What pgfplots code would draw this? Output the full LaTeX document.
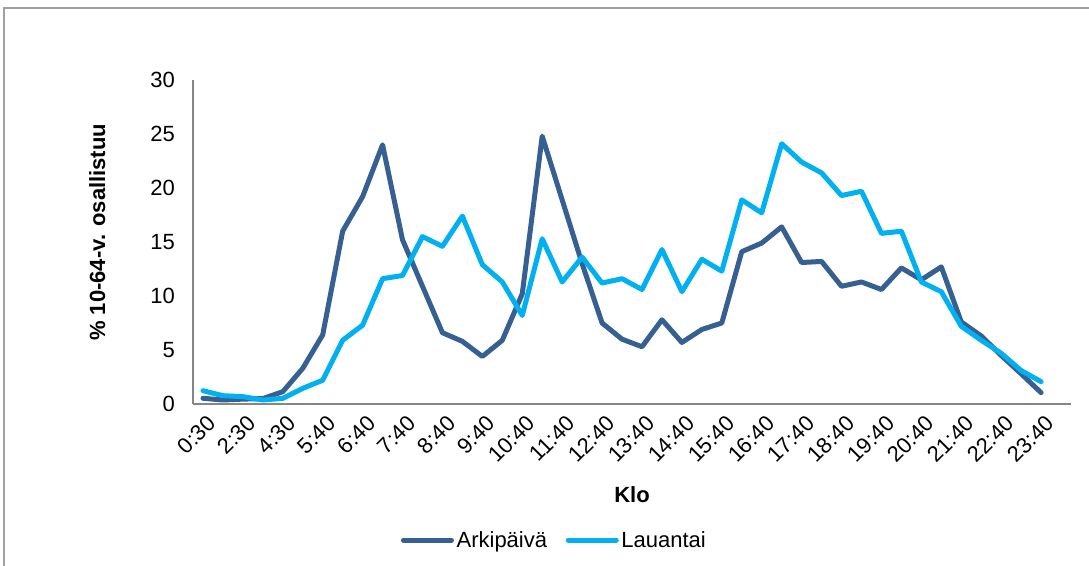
\documentclass[border=0pt]{standalone}
\usepackage{pgfplots}
\pgfplotsset{compat=1.18}
\usepackage{pgfplotstable}
\usepackage{fontspec}
\setmainfont{Liberation Sans}
\definecolor{arki}{RGB}{55,96,146}
\definecolor{lau}{RGB}{0,176,240}
\definecolor{axgray}{RGB}{134,134,134}
\definecolor{framegray}{RGB}{160,160,160}
\pgfplotstableread{
idx arki lau
0 0.53 1.23
1 0.37 0.77
2 0.45 0.68
3 0.50 0.37
4 1.14 0.52
5 3.3 1.45
6 6.4 2.2
7 16.0 5.9
8 19.2 7.3
9 24.0 11.6
10 15.2 11.9
11 10.9 15.5
12 6.6 14.6
13 5.8 17.4
14 4.4 12.9
15 5.9 11.3
16 10.2 8.2
17 24.8 15.3
18 18.9 11.3
19 13.0 13.6
20 7.5 11.2
21 6.0 11.6
22 5.3 10.6
23 7.8 14.3
24 5.7 10.4
25 6.9 13.4
26 7.5 12.3
27 14.1 18.9
28 14.9 17.7
29 16.4 24.1
30 13.1 22.4
31 13.2 21.4
32 10.9 19.3
33 11.3 19.7
34 10.6 15.8
35 12.6 16.0
36 11.5 11.3
37 12.7 10.4
38 7.6 7.2
39 6.3 5.9
40 4.5 4.7
41 2.8 3.1
42 1.05 2.07
}\datatable
\begin{document}
\begin{tikzpicture}
\useasboundingbox (0,0) rectangle (816.75pt,424.5pt);
\draw[framegray, line width=1.2pt] (3pt,0pt) -- (3pt,418.5pt) -- (816.75pt,418.5pt);
\begin{axis}[
  at={(144.75pt,121.5pt)}, anchor=south west,
  scale only axis, width=658.5pt, height=243pt,
  xmin=-0.5, xmax=43.5, ymin=0, ymax=30,
  ytick={0,5,...,30},
  xtick={0,2,...,42},
  xticklabels={0:30,2:30,4:30,5:40,6:40,7:40,8:40,9:40,10:40,11:40,12:40,13:40,14:40,15:40,16:40,17:40,18:40,19:40,20:40,21:40,22:40,23:40},
  axis x line*=bottom, axis y line*=left,
  axis line style={axgray, line width=1.2pt, -},
  major tick length=0pt,
  tick label style={font=\fontsize{16.5}{19}\selectfont, text=black},
  /pgf/number format/assume math mode=true,
  xticklabel style={rotate=45, anchor=east, yshift=-13pt, xshift=0pt},
  yticklabel style={xshift=-10pt},
  xlabel={\textbf{Klo}},
  ylabel={\textbf{\% 10-64-v. osallistuu}},
  label style={font=\fontsize{16.5}{19}\selectfont},
  xlabel style={at={(axis description cs:0.5,-0.281)}, anchor=center},
  ylabel style={at={(axis description cs:-0.109,0.53)}, anchor=center},
  legend columns=2,
  legend style={at={(axis description cs:0.412,-0.42)}, anchor=center, draw=none, fill=none,
    font=\fontsize{16.5}{19}\selectfont, /tikz/every even column/.append style={column sep=12pt}},
  legend image code/.code={\draw[#1, line cap=round] (0pt,0pt) -- (36pt,0pt);},
  clip=false,
]
\addplot[arki, line width=3.75pt, line join=round, line cap=round] table[x=idx,y=arki] {\datatable};
\addlegendentry{Arkipäivä}
\addplot[lau, line width=3.75pt, line join=round, line cap=round] table[x=idx,y=lau] {\datatable};
\addlegendentry{Lauantai}
\end{axis}
\end{tikzpicture}
\end{document}
